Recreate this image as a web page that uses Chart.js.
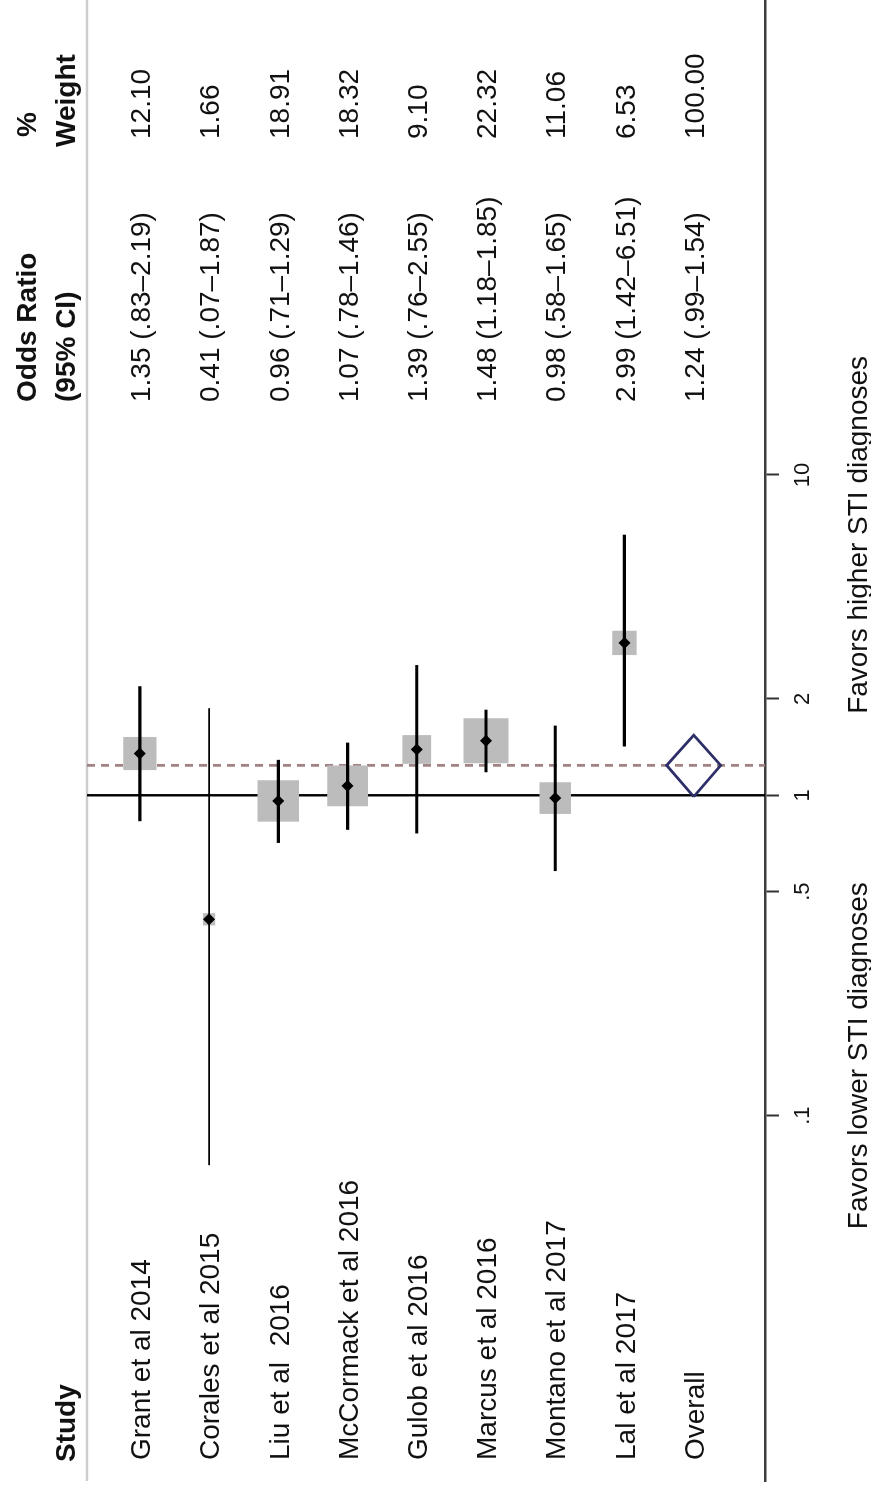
<!DOCTYPE html>
<html>
<head>
<meta charset="utf-8">
<title>Forest plot</title>
<script src="https://cdn.jsdelivr.net/npm/chart.js@4.4.1/dist/chart.umd.min.js"></script>
<style>
  html, body { margin: 0; padding: 0; background: #fff; overflow: hidden; }
  #page { position: relative; width: 871px; height: 1492px; }
  /* the plot is laid out landscape and turned a quarter to the left */
  #plot {
    position: absolute; left: 0; top: 0;
    width: 1492px; height: 871px;
    transform-origin: 0 0;
    transform: translate(0, 1492px) rotate(-90deg);
  }
</style>
</head>
<body>
<div id="page"><div id="plot"><canvas id="forest" width="1492" height="871"></canvas></div></div>
<script>
(() => {
    const studies = [
        "Grant et al 2014",
        "Corales et al 2015",
        "Liu et al  2016",
        "McCormack et al 2016",
        "Gulob et al 2016",
        "Marcus et al 2016",
        "Montano et al 2017",
        "Lal et al 2017"
    ];
    const oddsRatio = [1.35, 0.41, 0.96, 1.07, 1.39, 1.48, 0.98, 2.99];
    const ciLower = [0.83, 0.07, 0.71, 0.78, 0.76, 1.18, 0.58, 1.42];
    const ciUpper = [2.19, 1.87, 1.29, 1.46, 2.55, 1.85, 1.65, 6.51];
    const weights = [12.10, 1.66, 18.91, 18.32, 9.10, 22.32, 11.06, 6.53];

    const overallLabel = "Overall";
    const overallOR = 1.24;
    const overallLower = 0.99;
    const overallUpper = 1.54;
    const overallWeight = 100.00;

    const tickValues = [0.1, 0.5, 1, 2, 10];
    const tickLabels = [".1", ".5", "1", "2", "10"];

    const FONT = "\"Liberation Sans\", Arial, Helvetica, sans-serif";
    const TEXT = "#111";

    // axis range and row range that frame the table
    const axisMin = 0.00723;
    const axisMax = 304;
    const rowTop = -2.02;
    const rowBottom = 9.03;
    const headerRule = -0.765;
    const overallRow = studies.length;

    // x positions of the text columns
    const col = { study: 32, or: 1090, weight: 1353 };

    // box side grows with the square root of the weight
    const boxSide = (w) => 45 * Math.sqrt(w / 22.32);

    const fmtCI = (v) => v.toFixed(2).replace(/^0\./, ".");
    const orText = (est, lo, hi) => `${est.toFixed(2)} (${fmtCI(lo)}\u2013${fmtCI(hi)})`;

    const vline = (x, order, style) => Object.assign({
        type: "line",
        data: [{ x, y: headerRule }, { x, y: rowBottom }],
        pointRadius: 0,
        fill: false,
        order
    }, style);

    const ciLines = studies.map((s, i) => ({
        type: "line",
        data: [{ x: ciLower[i], y: i }, { x: ciUpper[i], y: i }],
        borderColor: "#000",
        borderWidth: ciLower[i] < tickValues[0] ? 1.6 : 3.2,
        borderCapStyle: "butt",
        pointRadius: 0,
        fill: false,
        order: 3
    }));

    const h = 0.39;
    const datasets = [
        vline(1, 6, { borderColor: "#000", borderWidth: 2.4 }),
        vline(overallOR, 5, { borderColor: "#a08484", borderWidth: 2.8, borderDash: [8, 6] }),
        {
            type: "scatter",
            data: studies.map((s, i) => ({ x: oddsRatio[i], y: i })),
            pointStyle: "rect",
            pointRadius: (ctx) => boxSide(weights[ctx.dataIndex]) / Math.SQRT2,
            pointBackgroundColor: "#bcbcbc",
            pointBorderWidth: 0,
            order: 4
        },
        ...ciLines,
        {
            type: "scatter",
            data: studies.map((s, i) => ({ x: oddsRatio[i], y: i })),
            pointStyle: "rectRot",
            pointRadius: 6,
            pointBackgroundColor: "#000",
            pointBorderWidth: 0,
            order: 2
        },
        {
            type: "line",
            data: [
                { x: overallLower, y: overallRow },
                { x: overallOR, y: overallRow - h },
                { x: overallUpper, y: overallRow },
                { x: overallOR, y: overallRow + h },
                { x: overallLower, y: overallRow }
            ],
            borderColor: "#2e2e68",
            borderWidth: 2.8,
            borderJoinStyle: "miter",
            pointRadius: 0,
            fill: false,
            tension: 0,
            order: 1
        }
    ];

    const tablePlugin = {
        id: "forestTable",
        beforeDatasetsDraw(chart) {
            const { ctx, chartArea } = chart;
            const y = chart.scales.y.getPixelForValue(headerRule);
            ctx.save();
            ctx.strokeStyle = "#cdcdcd";
            ctx.lineWidth = 2.5;
            ctx.beginPath();
            ctx.moveTo(chartArea.left, y);
            ctx.lineTo(chart.width, y);
            ctx.stroke();
            ctx.restore();
        },
        afterDraw(chart) {
            const { ctx } = chart;
            const yScale = chart.scales.y;
            const xScale = chart.scales.x;
            const rowY = (r) => yScale.getPixelForValue(r) + 2.5;

            ctx.save();
            ctx.fillStyle = TEXT;
            ctx.textAlign = "left";
            ctx.textBaseline = "middle";

            ctx.font = `bold 28px ${FONT}`;
            const h1 = yScale.getPixelForValue(-1.61);
            const h2 = yScale.getPixelForValue(-1.05);
            ctx.fillText("Study", col.study - 2, h2);
            ctx.fillText("Odds Ratio", col.or, h1);
            ctx.fillText("(95% CI)", col.or, h2);
            ctx.fillText("%", col.weight + 2, h1);
            ctx.fillText("Weight", col.weight - 8, h2);

            ctx.font = `28px ${FONT}`;
            studies.forEach((name, i) => {
                const y = rowY(i);
                ctx.fillText(name, col.study, y);
                ctx.fillText(orText(oddsRatio[i], ciLower[i], ciUpper[i]), col.or, y);
                ctx.fillText(weights[i].toFixed(2), col.weight, y);
            });
            const yo = rowY(overallRow);
            ctx.fillText(overallLabel, col.study, yo);
            ctx.fillText(orText(overallOR, overallLower, overallUpper), col.or, yo);
            ctx.fillText(overallWeight.toFixed(2), col.weight, yo);

            // direction labels sit at equal distance either side of the null line
            ctx.textAlign = "center";
            ctx.textBaseline = "alphabetic";
            ctx.fillText("Favors lower STI diagnoses", xScale.getPixelForValue(1 / 6.5), 867);
            ctx.fillText("Favors higher STI diagnoses", xScale.getPixelForValue(6.5), 867);
            ctx.restore();
        }
    };

    new Chart(document.getElementById("forest"), {
        type: "scatter",
        data: { datasets },
        options: {
            responsive: false,
            animation: false,
            devicePixelRatio: 1,
            layout: {
                autoPadding: false,
                padding: { left: 11, right: 0, top: 0, bottom: 0 }
            },
            plugins: {
                legend: { display: false },
                tooltip: { enabled: false }
            },
            scales: {
                x: {
                    type: "logarithmic",
                    min: axisMin,
                    max: axisMax,
                    bounds: "data",
                    afterBuildTicks: (scale) => {
                        scale.ticks = tickValues.map(value => ({ value }));
                    },
                    afterFit: (scale) => {
                        scale.height = 106;
                    },
                    grid: {
                        drawOnChartArea: false,
                        drawTicks: true,
                        tickLength: 14,
                        tickWidth: 2,
                        tickColor: "#333"
                    },
                    border: { display: true, color: "#3c3c3c", width: 2.5 },
                    ticks: {
                        autoSkip: false,
                        maxRotation: 0,
                        padding: 11,
                        color: TEXT,
                        font: { family: FONT, size: 22 },
                        callback: (v, i) => tickLabels[i]
                    }
                },
                y: {
                    type: "linear",
                    display: false,
                    reverse: true,
                    min: rowTop,
                    max: rowBottom
                }
            }
        },
        plugins: [tablePlugin]
    });
})();
</script>
</body>
</html>
